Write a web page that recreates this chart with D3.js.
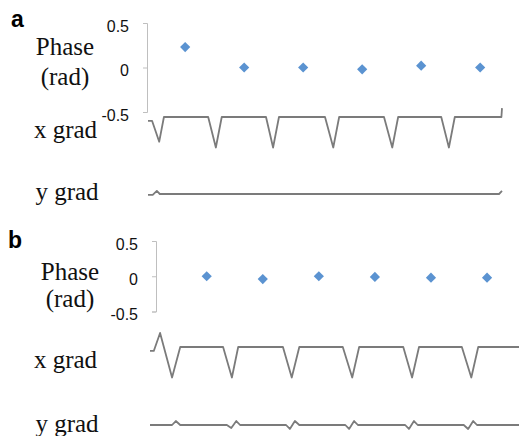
<!DOCTYPE html>
<html>
<head>
<meta charset="utf-8">
<script src="https://cdn.jsdelivr.net/npm/d3@7"></script>
<style>
  body { margin: 0; background: #fff; }
  svg { display: block; }
</style>
</head>
<body>
<div id="chart"></div>
<script>
// y axis of the phase plots
const PHASE_TICKS = [0.5, 0, -0.5];
const PHASE_TICK_LABELS = ["0.5", "0", "-0.5"];

// panel a: phase per cycle (sample position, rad)
const PHASE_T_A = [63, 163, 263, 363, 463, 563];
const PHASE_A = [0.23, 0.0, 0.0, -0.02, 0.02, 0.0];

// panel a: gradient traces (sample position, relative amplitude)
const XGRAD_T_A = [0, 7, 19, 27, 102, 115, 125, 200, 212, 222, 300, 314, 324, 400, 414, 424, 497, 510, 520, 599, 600];
const XGRAD_A = [-0.13, -0.13, -0.81, 0, 0, -1, 0, 0, -1, 0, 0, -1, 0, 0, -1, 0, 0, -1, 0, 0, 0.29];
const YGRAD_T_A = [0, 8, 15, 20, 595, 600];
const YGRAD_A = [-0.03, -0.03, 0.1, 0, 0, 0.1];

// panel b
const PHASE_T_B = [90, 179, 268, 357, 446, 535];
const PHASE_B = [0.0, -0.04, 0.0, -0.01, -0.02, -0.02];

const XGRAD_T_B = [0, 6, 16, 35, 48, 116, 130, 140, 211, 225, 237, 306, 321, 332, 402, 416, 427, 495, 510, 521, 600];
const XGRAD_B = [-0.13, -0.13, 0.46, -1, 0, 0, -1, 0, 0, -1, 0, 0, -1, 0, 0, -1, 0, 0, -1, 0, 0];
const YGRAD_T_B = [0, 35, 41, 48, 122, 129, 137, 143, 216, 222, 230, 237, 310, 316, 324, 330, 405, 411, 419, 425, 498, 505, 513, 519, 600];
const YGRAD_B = [0, 0, 0.13, 0, 0, -0.1, 0.13, 0, 0, -0.13, 0.13, 0, 0, -0.13, 0.13, 0, 0, -0.13, 0.13, 0, 0, -0.13, 0.13, 0, 0];

const width = 519;
const height = 436;
const traceColor = "#7b7b7b";
const axisColor = "#bfbfbf";
const pointColor = "#5b93d1";
const serif = "'Liberation Serif', 'Times New Roman', serif";
const sans = "'Liberation Sans', Arial, sans-serif";

const svg = d3
  .select("#chart")
  .append("svg")
  .attr("width", width)
  .attr("height", height);

const panels = [
  {
    letter: "a", letterX: 11, letterY: 27,
    xRange: [148, 502], axisX: 147, phaseRange: [112, 23],
    labelX: 65, phaseY: 55, radY: 85,
    xgradZero: 117, xgradLabelY: 138, ygradZero: 194, ygradLabelY: 200,
    phaseT: PHASE_T_A, phase: PHASE_A,
    xgradT: XGRAD_T_A, xgrad: XGRAD_A, ygradT: YGRAD_T_A, ygrad: YGRAD_A,
  },
  {
    letter: "b", letterX: 8, letterY: 248,
    xRange: [150, 528], axisX: 156, phaseRange: [311.5, 241],
    labelX: 70, phaseY: 280, radY: 307,
    xgradZero: 347, xgradLabelY: 368, ygradZero: 425, ygradLabelY: 432,
    phaseT: PHASE_T_B, phase: PHASE_B,
    xgradT: XGRAD_T_B, xgrad: XGRAD_B, ygradT: YGRAD_T_B, ygrad: YGRAD_B,
  },
];

function drawPanel(p) {
  const g = svg.append("g");
  const x = d3.scaleLinear().domain([0, 600]).range(p.xRange);
  const y = d3.scaleLinear().domain([-0.5, 0.5]).range(p.phaseRange);
  const unit = 30.5;
  const yx = d3.scaleLinear().domain([-1, 0]).range([p.xgradZero + unit, p.xgradZero]);
  const yy = d3.scaleLinear().domain([-1, 0]).range([p.ygradZero + unit, p.ygradZero]);

  g.append("text")
    .attr("x", p.letterX)
    .attr("y", p.letterY)
    .attr("font-family", sans)
    .attr("font-weight", "bold")
    .attr("font-size", 23)
    .text(p.letter);

  const labels = g
    .append("g")
    .attr("font-family", serif)
    .attr("font-size", 25)
    .attr("text-anchor", "middle")
    .attr("fill", "#111");
  labels.append("text").attr("x", p.labelX).attr("y", p.phaseY).text("Phase");
  labels.append("text").attr("x", p.labelX).attr("y", p.radY).text("(rad)");
  labels.append("text").attr("x", 65.5).attr("y", p.xgradLabelY).text("x grad");
  labels.append("text").attr("x", 67).attr("y", p.ygradLabelY).text("y grad");

  const axis = g
    .append("g")
    .attr("transform", `translate(${p.axisX},0)`)
    .call(
      d3.axisLeft(y)
        .tickValues(PHASE_TICKS)
        .tickFormat((d, i) => PHASE_TICK_LABELS[i])
        .tickSize(4)
        .tickPadding(14),
    );
  axis.select(".domain").attr("stroke", axisColor);
  axis.selectAll(".tick line").attr("stroke", axisColor);
  axis
    .selectAll(".tick text")
    .attr("font-family", sans)
    .attr("font-size", 16)
    .attr("fill", "#111")
    .attr("dy", "0.52em");

  g.append("g")
    .selectAll("path")
    .data(d3.zip(p.phaseT, p.phase))
    .join("path")
    .attr("d", d3.symbol(d3.symbolSquare, 52))
    .attr("fill", pointColor)
    .attr("transform", (d) => `translate(${x(d[0])},${y(d[1])}) rotate(45)`);

  const lineX = d3.line().x((d) => x(d[0])).y((d) => yx(d[1]));
  const lineY = d3.line().x((d) => x(d[0])).y((d) => yy(d[1]));

  g.append("path")
    .datum(d3.zip(p.xgradT, p.xgrad))
    .attr("fill", "none")
    .attr("stroke", traceColor)
    .attr("stroke-width", 1.8)
    .attr("stroke-linejoin", "round")
    .attr("d", lineX);

  g.append("path")
    .datum(d3.zip(p.ygradT, p.ygrad))
    .attr("fill", "none")
    .attr("stroke", traceColor)
    .attr("stroke-width", 1.8)
    .attr("stroke-linejoin", "round")
    .attr("d", lineY);
}

panels.forEach(drawPanel);
</script>
</body>
</html>
